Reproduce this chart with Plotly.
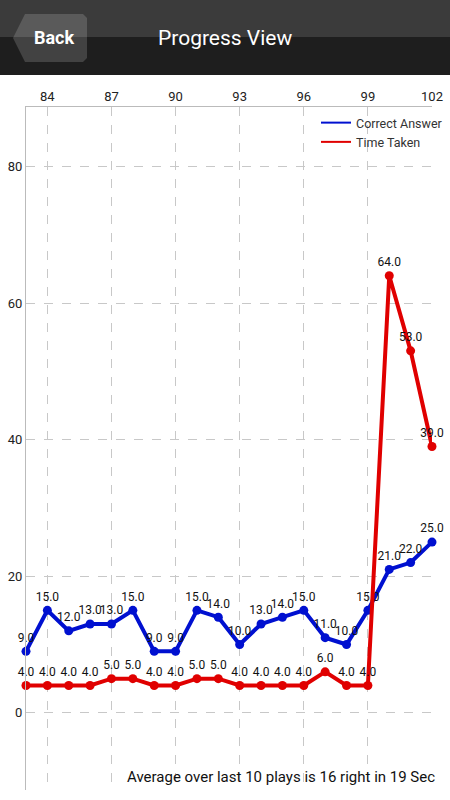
import plotly.graph_objects as go

plays = list(range(83, 103))
correct = [9, 15, 12, 13, 13, 15, 9, 9, 15, 14, 10, 13, 14, 15, 11, 10, 15, 21, 22, 25]
time_taken = [4, 4, 4, 4, 5, 5, 4, 4, 5, 5, 4, 4, 4, 4, 6, 4, 4, 64, 53, 39]
x_ticks = [84, 87, 90, 93, 96, 99, 102]
y_ticks = [0, 20, 40, 60, 80]

W, H = 450, 800
L, R, T, B = 26, 18, 107, 10
PW, PH = W - L - R, H - T - B


def px(x):
    return (x - L) / PW


def py(y):
    return (H - B - y) / PH


fig = go.Figure()
fig.add_trace(go.Scatter(
    x=plays, y=correct, mode="lines+markers+text", showlegend=False,
    line=dict(color="#0010d0", width=4), marker=dict(size=9, color="#0010d0"),
    texttemplate="%{y:.1f}", textposition="top center",
    textfont=dict(size=12, color="#111111", family="Roboto"), cliponaxis=False))
fig.add_trace(go.Scatter(
    x=plays, y=time_taken, mode="lines+markers+text", showlegend=False,
    line=dict(color="#e00000", width=4), marker=dict(size=9, color="#e00000"),
    texttemplate="%{y:.1f}", textposition="top center",
    textfont=dict(size=12, color="#111111", family="Roboto"), cliponaxis=False))
fig.add_trace(go.Scatter(x=[None], y=[None], mode="lines", name="Correct Answer",
                         line=dict(color="#0010d0", width=2)))
fig.add_trace(go.Scatter(x=[None], y=[None], mode="lines", name="Time Taken",
                         line=dict(color="#e00000", width=2)))

shapes = [
    dict(type="rect", xref="paper", yref="paper", x0=px(0), x1=px(W), y0=py(37), y1=py(0),
         fillcolor="#3b3b3b", line=dict(width=0), layer="above"),
    dict(type="rect", xref="paper", yref="paper", x0=px(0), x1=px(W), y0=py(75), y1=py(37),
         fillcolor="#1e1e1e", line=dict(width=0), layer="above"),
]
pts = [(13, 38), (25, 14), (83, 14), (87, 18), (87, 58), (83, 62), (25, 62)]
path = "M " + " L ".join(f"{px(a):.5f},{py(b):.5f}" for a, b in pts) + " Z"
shapes.append(dict(type="path", xref="paper", yref="paper", path=path,
                   fillcolor="rgba(255,255,255,0.16)", line=dict(width=0), layer="above"))

annotations = [
    dict(text="<b>Back</b>", x=px(54), y=py(38), xref="paper", yref="paper", showarrow=False,
         font=dict(size=18, color="white", family="Roboto"), xanchor="center", yanchor="middle"),
    dict(text="Progress View", x=px(225), y=py(38), xref="paper", yref="paper", showarrow=False,
         font=dict(size=21, color="white", family="Roboto"), xanchor="center", yanchor="middle"),
    dict(text="Average over last 10 plays is 16 right in 19 Sec", x=px(437), y=py(777),
         xref="paper", yref="paper", showarrow=False,
         font=dict(size=15, color="#111111", family="Roboto"), xanchor="right", yanchor="middle"),
]

fig.update_layout(
    width=W, height=H, autosize=False,
    margin=dict(l=L, r=R, t=T, b=B, autoexpand=False),
    paper_bgcolor="white", plot_bgcolor="white",
    font=dict(family="Roboto", color="#222222", size=13),
    shapes=shapes, annotations=annotations,
    legend=dict(x=px(316), y=py(108), xanchor="left", yanchor="top", bgcolor="rgba(0,0,0,0)",
                font=dict(size=12.5, color="#333333"), itemwidth=30, tracegroupgap=0),
    xaxis=dict(range=[83, 102], side="top", tickvals=x_ticks, showgrid=True,
               gridcolor="#c8c8c8", griddash="dash", gridwidth=1, zeroline=False,
               showline=True, linecolor="#bbbbbb", linewidth=1, ticks="",
               tickfont=dict(size=13, color="#222222")),
    yaxis=dict(range=[-11.3, 88.7], tickvals=y_ticks, showgrid=True,
               gridcolor="#c8c8c8", griddash="dash", gridwidth=1, zeroline=False,
               showline=True, linecolor="#bbbbbb", linewidth=1, ticks="",
               tickfont=dict(size=13, color="#222222")),
)

fig.write_html("out.html", config={"displayModeBar": False, "responsive": False},
               post_script="document.body.style.margin='0';document.body.style.overflow='hidden';")
